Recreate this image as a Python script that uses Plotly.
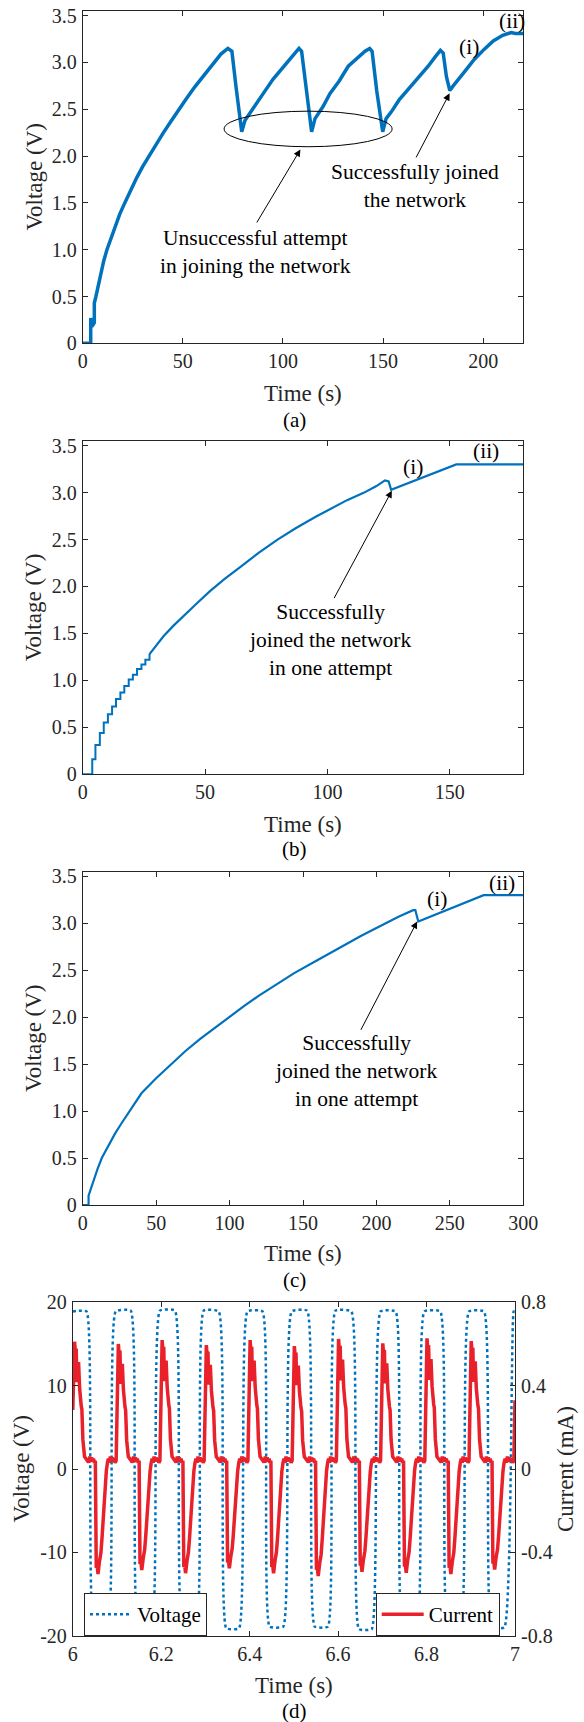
import plotly.graph_objects as go

FONT = "Liberation Serif, Times New Roman, serif"
BLUE = "#0072BD"
RED = "#E8212B"
AXC = "#262626"
W, H = 584, 1722

# ---------------- data: panel (a) ----------------
a_time = [0, 4.0, 4.0, 4.6, 5.8, 5.8, 6.6, 8.9, 10.5, 12.1, 14, 16, 18.5, 21, 24, 27, 30, 33,
          36.5, 40, 44, 48, 52, 56, 60, 65.6, 69, 72.5, 74.5, 76.5, 79.4,
          81, 85, 90.2, 95, 100, 104, 106.8, 108, 109.3, 111.5, 114.3,
          116, 120, 123.5, 128, 132.6, 137, 141, 143.3, 144.5, 146.8, 149.8,
          151.5, 154, 158, 163, 168, 172.5, 176, 178.6, 180, 181.6, 183.3,
          185, 191, 195, 200.4, 205, 209.7, 212, 214, 216, 220]
a_volt = [0, 0, 0.27, 0.18, 0.22, 0.43, 0.5, 0.75, 0.88, 1.0, 1.12, 1.25, 1.38, 1.5, 1.64, 1.77, 1.89, 2.0,
          2.12, 2.24, 2.37, 2.5, 2.62, 2.74, 2.85, 3.0, 3.09, 3.15, 3.12, 2.75, 2.26,
          2.38, 2.5, 2.67, 2.82, 2.95, 3.05, 3.12, 3.15, 3.12, 2.75, 2.26,
          2.4, 2.53, 2.67, 2.8, 2.96, 3.05, 3.12, 3.15, 3.12, 2.7, 2.26,
          2.4, 2.47, 2.6, 2.72, 2.85, 2.96, 3.06, 3.13, 3.1, 2.85, 2.7,
          2.75, 2.91, 3.02, 3.14, 3.23, 3.29, 3.31, 3.32, 3.31, 3.31]

# ---------------- data: panel (b) ----------------
b_step_time = [0, 3.9, 5.2, 7.0, 8.6, 10.3, 12.0, 13.6, 15.4, 17.0, 18.8, 20.5, 22.2, 24.0, 25.6, 27.3]
b_step_volt = [0, 0.16, 0.31, 0.44, 0.55, 0.64, 0.72, 0.80, 0.87, 0.94, 1.01, 1.06, 1.12, 1.17, 1.22, 1.28]
b_time = [27.3, 30, 33, 37, 42, 47, 52, 58, 65, 72, 79.6, 87, 95, 102, 108, 115, 120, 123.5, 125, 126,
          128, 132, 136, 140, 145, 150, 152.6, 180]
b_volt = [1.28, 1.37, 1.47, 1.58, 1.71, 1.83, 1.95, 2.08, 2.22, 2.36, 2.5, 2.62, 2.74, 2.84, 2.92, 3.0, 3.07, 3.13, 3.12, 3.03,
          3.05, 3.09, 3.13, 3.17, 3.22, 3.27, 3.3, 3.3]

# ---------------- data: panel (c) ----------------
c_time = [0, 4, 4, 6, 8, 10, 13, 17, 22, 26, 32, 40, 50, 60, 70, 80, 90, 100, 110, 120, 132, 144,
          160, 175, 190, 205, 215, 225, 226.5, 228.5, 235, 245, 255, 265, 273, 300]
c_volt = [0, 0, 0.1, 0.2, 0.3, 0.38, 0.5, 0.62, 0.76, 0.86, 1.0, 1.19, 1.35, 1.5, 1.64, 1.77, 1.89, 2.01,
          2.12, 2.23, 2.35, 2.47, 2.61, 2.74, 2.87, 2.99, 3.07, 3.14, 3.14, 3.02, 3.06, 3.12, 3.19, 3.25, 3.3, 3.3]

# ---------------- data: panel (d) ----------------
v_fall_start = [6.031, 6.131, 6.231, 6.330, 6.429, 6.530, 6.630, 6.730, 6.831, 6.930]
v_fall_end = [6.048, 6.148, 6.248, 6.347, 6.445, 6.547, 6.647, 6.746, 6.848, 6.947]
v_rise_start = [6.079, 6.178, 6.279, 6.376, 6.476, 6.577, 6.676, 6.778, 6.877, 6.976]
v_rise_end = [6.097, 6.197, 6.296, 6.395, 6.495, 6.594, 6.696, 6.795, 6.896, 6.997]
v_high = [18.9, 19.0, 19.0, 18.9, 18.9, 19.0, 18.9, 18.9, 18.9, 18.9]
v_low = [-18.8, -19.0, -18.8, -19.1, -18.9, -18.9, -19.2, -18.8, -18.9, -19.0]

i_peak_time = [6.004, 6.103, 6.202, 6.302, 6.401, 6.501, 6.601, 6.701, 6.801, 6.901]
i_peak = [0.611, 0.600, 0.619, 0.595, 0.619, 0.590, 0.624, 0.603, 0.627, 0.614]
i_dip_time = [6.051, 6.150, 6.249, 6.348, 6.448, 6.549, 6.648, 6.748, 6.849, 6.948]
i_min = [-0.504, -0.485, -0.500, -0.477, -0.500, -0.514, -0.493, -0.498, -0.504, -0.482]
# pulse shape read from one cycle (offset s, value mA)
pulse_dt = [-0.005, 0, 0.0015, 0.0037, 0.0052, 0.0075, 0.009, 0.0115, 0.0127, 0.015, 0.0165, 0.0188, 0.0225, 0.028]
pulse_val = [0.04, 0.603, 0.56, 0.571, 0.411, 0.47, 0.507, 0.38, 0.331, 0.30, 0.283, 0.139, 0.059, 0.043]
dip_dt = [0, 0.002, 0.004, 0.006, 0.0093, 0.0125, 0.015, 0.0195, 0.0248, 0.0273]
dip_val = [0.04, -0.47, -0.46, -0.5, -0.44, -0.40, -0.33, -0.17, -0.01, 0.03]
flat_noise = [0.05, 0.03, 0.06, 0.035, 0.055, 0.04, 0.05, 0.03]
i_start = (6.0, 0.283)
i_end = (7.0, 0.33)

# ---------------- build panel (d) series ----------------
vt, vv = [6.0], [v_high[0]]
for n in range(len(v_fall_start)):
    vt += [v_fall_start[n], v_fall_end[n], v_rise_start[n], v_rise_end[n]]
    vv += [v_high[n], v_low[n], v_low[n], v_high[n]]
vt.append(7.0)
vv.append(v_high[-1])

it, iv = [i_start[0]], [i_start[1]]
for n in range(len(i_peak_time)):
    sc = i_peak[n] / 0.603
    for dt, val in zip(pulse_dt, pulse_val):
        t = i_peak_time[n] + dt
        if t > 6.0:
            it.append(t)
            iv.append(val * sc if val > 0.1 else val)
    t0 = i_peak_time[n] + pulse_dt[-1]
    t1 = i_dip_time[n]
    k = len(flat_noise)
    for j, val in enumerate(flat_noise):
        it.append(t0 + (t1 - t0) * (j + 1) / (k + 1))
        iv.append(val)
    sd = i_min[n] / -0.5
    for dt, val in zip(dip_dt, dip_val):
        it.append(i_dip_time[n] + dt)
        iv.append(val * sd if val < -0.05 else val)
    t0 = i_dip_time[n] + dip_dt[-1]
    t1 = (i_peak_time[n + 1] + pulse_dt[0]) if n + 1 < len(i_peak_time) else 6.9975
    for j, val in enumerate(flat_noise):
        it.append(t0 + (t1 - t0) * (j + 1) / (k + 1))
        iv.append(val)
it += [6.9975, i_end[0]]
iv += [0.04, i_end[1]]

fig = go.Figure()
fig.add_trace(go.Scatter(x=a_time, y=a_volt, mode="lines", line=dict(color=BLUE, width=3.5),
                         xaxis="x", yaxis="y", showlegend=False))
fig.add_trace(go.Scatter(x=b_step_time, y=b_step_volt, mode="lines", line=dict(color=BLUE, width=2, shape="hv"),
                         xaxis="x2", yaxis="y2", showlegend=False))
fig.add_trace(go.Scatter(x=b_time, y=b_volt, mode="lines", line=dict(color=BLUE, width=2.2),
                         xaxis="x2", yaxis="y2", showlegend=False))
fig.add_trace(go.Scatter(x=c_time, y=c_volt, mode="lines", line=dict(color=BLUE, width=2.2),
                         xaxis="x3", yaxis="y3", showlegend=False))
fig.add_trace(go.Scatter(x=vt, y=vv, mode="lines", name="Voltage",
                         line=dict(color=BLUE, width=2.5, dash="dot", shape="spline", smoothing=0.4),
                         xaxis="x4", yaxis="y4", legend="legend"))
fig.add_trace(go.Scatter(x=it, y=iv, mode="lines", name="Current",
                         line=dict(color=RED, width=3.5),
                         xaxis="x4", yaxis="y5", legend="legend2"))


def px_x(p):
    return p / W


def px_y(p):
    return 1 - p / H


def axis(**kw):
    d = dict(showline=True, linecolor=AXC, linewidth=1, mirror="ticks", ticks="inside", ticklen=5,
             tickcolor=AXC, tickwidth=1, showgrid=False, zeroline=False, automargin=False,
             tickfont=dict(family=FONT, size=20, color=AXC))
    d.update(kw)
    return d


vt_vals = [0, 0.5, 1.0, 1.5, 2.0, 2.5, 3.0, 3.5]
vt_text = ["0", "0.5", "1.0", "1.5", "2.0", "2.5", "3.0", "3.5"]

xa_dom = [px_x(82.7), px_x(523.3)]
fig.update_layout(
    width=W, height=H, margin=dict(l=0, r=0, t=0, b=0),
    paper_bgcolor="white", plot_bgcolor="white",
    font=dict(family=FONT, color="black"),
    xaxis=axis(domain=xa_dom, range=[0, 220], anchor="y", tickvals=[0, 50, 100, 150, 200]),
    yaxis=axis(domain=[px_y(343.3), px_y(11)], range=[0, 3.55], anchor="x", tickvals=vt_vals, ticktext=vt_text,
               ticklabelstandoff=1),
    xaxis2=axis(domain=xa_dom, range=[0, 180], anchor="y2", tickvals=[0, 50, 100, 150]),
    yaxis2=axis(domain=[px_y(774.2), px_y(441)], range=[0, 3.55], anchor="x2", tickvals=vt_vals, ticktext=vt_text,
                ticklabelstandoff=1),
    xaxis3=axis(domain=xa_dom, range=[0, 300], anchor="y3", tickvals=[0, 50, 100, 150, 200, 250, 300]),
    yaxis3=axis(domain=[px_y(1205), px_y(871.7)], range=[0, 3.55], anchor="x3", tickvals=vt_vals, ticktext=vt_text,
                ticklabelstandoff=1),
    xaxis4=axis(domain=[px_x(72.8), px_x(515)], range=[6, 7], anchor="y4",
                tickvals=[6, 6.2, 6.4, 6.6, 6.8, 7], ticktext=["6", "6.2", "6.4", "6.6", "6.8", "7"]),
    yaxis4=axis(domain=[px_y(1635.7), px_y(1302.3)], range=[-20, 20], anchor="x4", mirror=False,
                tickvals=[-20, -10, 0, 10, 20], ticktext=["-20", "-10", "0", "10", "20"], ticklabelstandoff=1),
    yaxis5=axis(domain=[px_y(1635.7), px_y(1302.3)], range=[-0.8, 0.8], anchor="x4", overlaying="y4",
                side="right", mirror=False, ticklabelstandoff=1,
                tickvals=[-0.8, -0.4, 0, 0.4, 0.8], ticktext=["-0.8", "-0.4", "0", "0.4", "0.8"]),
    legend=dict(x=px_x(84), y=px_y(1593), xanchor="left", yanchor="top", bordercolor=AXC, borderwidth=1,
                bgcolor="white", itemwidth=42, font=dict(family=FONT, size=21, color="black")),
    legend2=dict(x=px_x(375.7), y=px_y(1593), xanchor="left", yanchor="top", bordercolor=AXC, borderwidth=1,
                 bgcolor="white", itemwidth=42, font=dict(family=FONT, size=21, color="black")),
)

ann = []


def label(x, y, text, size=21, angle=0, color="black"):
    ann.append(dict(x=px_x(x), y=px_y(y), xref="paper", yref="paper", text=text, showarrow=False,
                    textangle=angle, font=dict(family=FONT, size=size, color=color),
                    xanchor="center", yanchor="middle"))


# axis titles and panel letters
for letter, ty, ly, cy in [("a", 393, 420, 177), ("b", 824, 849, 607.6), ("c", 1253, 1280, 1038.4)]:
    label(303, ty, "Time (s)", 23, color=AXC)
    label(294.8, ly, "(" + letter + ")", 21)
    label(33.6, cy, "Voltage (V)", 23, angle=-90, color=AXC)
label(294, 1685, "Time (s)", 23, color=AXC)
label(294.8, 1711, "(d)", 21)
label(20.5, 1469, "Voltage (V)", 23, angle=-90, color=AXC)
label(565, 1469, "Current (mA)", 23, angle=-90, color=AXC)


def dtext(xr, yr, x, y, text):
    ann.append(dict(x=x, y=y, xref=xr, yref=yr, text=text, showarrow=False,
                    font=dict(family=FONT, size=21.5, color="black"), xanchor="center", yanchor="middle"))


def arrow(xr, yr, hx, hy, tx, ty):
    ann.append(dict(x=hx, y=hy, ax=tx, ay=ty, xref=xr, yref=yr, axref=xr, ayref=yr, text="",
                    showarrow=True, arrowhead=2, arrowsize=1.4, arrowwidth=1, arrowcolor="black"))


dtext("x", "y", 86.4, 0.97, "Unsuccessful attempt<br>in joining the network")
dtext("x", "y", 166, 1.68, "Successfully joined<br>the network")
dtext("x", "y", 193, 3.17, "(i)")
dtext("x", "y", 214.3, 3.44, "(ii)")
arrow("x", "y", 108.7, 2.07, 86.5, 1.275)
arrow("x", "y", 183.2, 2.67, 166.1, 1.97)

dtext("x2", "y2", 101.2, 1.43, "Successfully<br>joined the network<br>in one attempt")
dtext("x2", "y2", 134.8, 3.27, "(i)")
dtext("x2", "y2", 164.8, 3.44, "(ii)")
arrow("x2", "y2", 126.3, 3.02, 102.4, 1.86)

dtext("x3", "y3", 186.3, 1.43, "Successfully<br>joined the network<br>in one attempt")
dtext("x3", "y3", 240.9, 3.26, "(i)")
dtext("x3", "y3", 285.5, 3.43, "(ii)")
arrow("x3", "y3", 227.7, 3.02, 188.9, 1.85)

fig.update_layout(annotations=ann)
fig.add_shape(type="circle", xref="x", yref="y", x0=70.6, x1=154.5, y0=2.10, y1=2.48,
              line=dict(color="black", width=1))

fig.write_html("out.html", config={"displayModeBar": False},
               post_script="document.body.style.margin='0';document.body.style.padding='0';"
                           "document.body.style.overflow='hidden';")
